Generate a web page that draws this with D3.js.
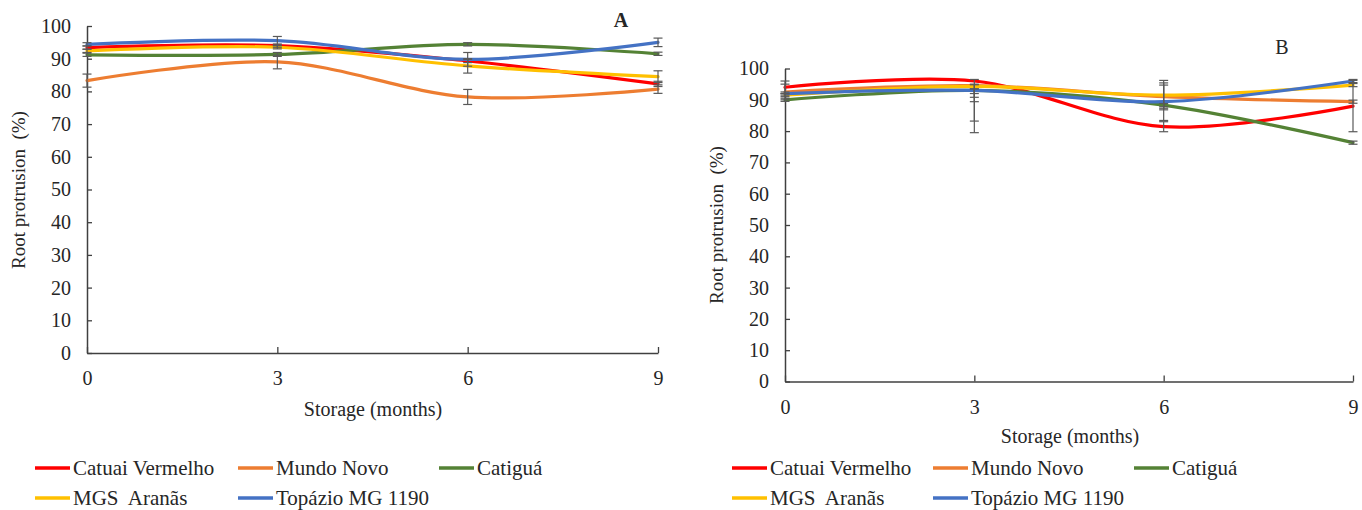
<!DOCTYPE html>
<html>
<head>
<meta charset="utf-8">
<script src="https://cdn.jsdelivr.net/npm/d3@7"></script>
<style>
  html, body { margin: 0; padding: 0; background: #fff; }
  svg { display: block; }
  svg text { font-family: "Liberation Serif", Tinos, "Times New Roman", "DejaVu Serif", serif !important; fill: #262626; }
</style>
</head>
<body>
<svg id="chart" width="1362" height="510"></svg>
<script>
// ---------- data ----------
const months = [0, 3, 6, 9];
const yTicks = [0, 10, 20, 30, 40, 50, 60, 70, 80, 90, 100];
const seriesNames = ["Catuai Vermelho", "Mundo Novo", "Catiguá", "MGS  Aranãs", "Topázio MG 1190"];
const seriesColors = ["#FF0000", "#ED7D31", "#548235", "#FFC000", "#4472C4"];

// Panel A values (root protrusion %)
const aCatuai  = [93.4, 94.0, 89.3, 82.3];
const aMundo   = [83.3, 89.0, 78.3, 80.7];
const aCatigua = [91.2, 91.3, 94.4, 91.5];
const aMGS     = [92.4, 93.5, 87.8, 84.5];
const aTopazio = [94.4, 95.5, 89.8, 95.0];
// Panel A error bars (symmetric)
const aErr = [
  [0.5, 0.5, 0.5, 0.8],
  [2.0, 2.1, 2.3, 1.3],
  [0.5, 0.6, 0.5, 0.5],
  [0.5, 0.5, 2.2, 1.8],
  [0.5, 1.3, 2.1, 1.3]
];

// Panel B values
const bCatuai  = [94.0, 96.0, 81.4, 88.0];
const bMundo   = [92.5, 94.5, 91.0, 89.4];
const bCatigua = [90.0, 93.0, 88.3, 76.3];
const bMGS     = [91.5, 94.3, 91.5, 94.7];
const bTopazio = [92.0, 93.0, 89.4, 96.0];
// Panel B error bars (minus / plus)
const bErrMinus = [
  [2.0, 16.5, 1.6, 8.2],
  [2.5, 11.3, 3.7, 0.5],
  [0.5, 2.2, 0.5, 0.5],
  [0.5, 4.9, 4.7, 0.5],
  [0.5, 1.0, 6.0, 0.5]
];
const bErrPlus = [
  [2.0, 0.5, 1.6, 8.2],
  [2.5, 0.5, 3.7, 0.5],
  [0.5, 0.5, 0.5, 0.5],
  [0.5, 0.5, 4.7, 0.5],
  [0.5, 0.5, 6.0, 0.5]
];

const xTitle = "Storage (months)";
const yTitle = "Root protrusion  (%)";

// ---------- layout ----------
const panels = [
  { label: "A", labelBold: true, values: [aCatuai, aMundo, aCatigua, aMGS, aTopazio],
    errMinus: aErr, errPlus: aErr,
    x0: 87, x1: 658, yBot: 353, yTop: 26,
    labelPos: [621, 27], yTitlePos: [25, 190], xTitlePos: [373, 416],
    legendX: [35, 238, 439], legendY: [468, 498] },
  { label: "B", labelBold: false, values: [bCatuai, bMundo, bCatigua, bMGS, bTopazio],
    errMinus: bErrMinus, errPlus: bErrPlus,
    x0: 785, x1: 1353, yBot: 381.5, yTop: 68.5,
    labelPos: [1282, 54], yTitlePos: [723, 225], xTitlePos: [1070, 443],
    legendX: [732, 933, 1134], legendY: [468, 498] }
];

const svg = d3.select("#chart");
const axisColor = "#404040";
const errColor = "#595959";
const serif = '"Liberation Serif", Tinos, "Times New Roman", "DejaVu Serif", serif';

panels.forEach((p) => {
  const x = d3.scaleLinear().domain([0, 9]).range([p.x0, p.x1]);
  const y = d3.scaleLinear().domain([0, 100]).range([p.yBot, p.yTop]);
  const g = svg.append("g");

  // y axis
  const yAxis = d3.axisLeft(y).tickValues(yTicks).tickSizeInner(-5).tickSizeOuter(0).tickPadding(16);
  const ya = g.append("g").attr("transform", `translate(${p.x0},0)`).call(yAxis)
    .attr("font-family", serif).attr("font-size", 20);
  ya.select(".domain").attr("stroke", axisColor).attr("stroke-width", 1.5);
  ya.selectAll(".tick line").attr("stroke", axisColor).attr("stroke-width", 1.3);
  ya.selectAll(".tick text").attr("fill", "#262626");

  // x axis
  const xAxis = d3.axisBottom(x).tickValues(months).tickSizeInner(-6).tickSizeOuter(0).tickPadding(18);
  const xa = g.append("g").attr("transform", `translate(0,${p.yBot})`).call(xAxis)
    .attr("font-family", serif).attr("font-size", 20);
  xa.select(".domain").attr("stroke", axisColor).attr("stroke-width", 1.5);
  xa.selectAll(".tick line").attr("stroke", axisColor).attr("stroke-width", 1.3);
  xa.selectAll(".tick text").attr("fill", "#262626");

  // lines
  const line = d3.line()
    .x((d, i) => x(months[i]))
    .y(d => y(d))
    .curve(d3.curveCardinal.tension(0));

  p.values.forEach((vals, si) => {
    g.append("path")
      .attr("d", line(vals))
      .attr("fill", "none")
      .attr("stroke", seriesColors[si])
      .attr("stroke-width", 3.2)
      .attr("stroke-linecap", "round");
  });

  // error bars
  p.values.forEach((vals, si) => {
    vals.forEach((v, i) => {
      const lo = Math.max(0, v - p.errMinus[si][i]);
      const hi = Math.min(100, v + p.errPlus[si][i]);
      const cx = x(months[i]);
      g.append("line").attr("x1", cx).attr("x2", cx).attr("y1", y(lo)).attr("y2", y(hi))
        .attr("stroke", errColor).attr("stroke-width", 1.2);
      [lo, hi].forEach(e => {
        g.append("line").attr("x1", cx - 4.5).attr("x2", cx + 4.5).attr("y1", y(e)).attr("y2", y(e))
          .attr("stroke", errColor).attr("stroke-width", 1.2);
      });
    });
  });

  // panel label
  g.append("text").attr("x", p.labelPos[0]).attr("y", p.labelPos[1])
    .attr("font-family", serif)
    .attr("font-size", 20).attr("font-weight", p.labelBold ? "bold" : "normal")
    .attr("text-anchor", "middle").text(p.label);

  // axis titles
  g.append("text").attr("x", p.xTitlePos[0]).attr("y", p.xTitlePos[1])
    .attr("font-family", serif)
    .attr("font-size", 20).attr("text-anchor", "middle").text(xTitle);
  g.append("text")
    .attr("transform", `translate(${p.yTitlePos[0]},${p.yTitlePos[1]}) rotate(-90)`)
    .attr("font-family", serif)
    .attr("font-size", 19).attr("text-anchor", "middle")
    .style("white-space", "pre").text(yTitle);

  // legend
  seriesNames.forEach((name, si) => {
    const col = si < 3 ? si : si - 3;
    const row = si < 3 ? 0 : 1;
    const lx = p.legendX[col];
    const ly = p.legendY[row];
    g.append("line").attr("x1", lx).attr("x2", lx + 35).attr("y1", ly).attr("y2", ly)
      .attr("stroke", seriesColors[si]).attr("stroke-width", 3.5);
    g.append("text").attr("x", lx + 38).attr("y", ly + 7)
      .attr("font-family", serif)
      .attr("font-size", 21).style("white-space", "pre").text(name);
  });
});
</script>
</body>
</html>
